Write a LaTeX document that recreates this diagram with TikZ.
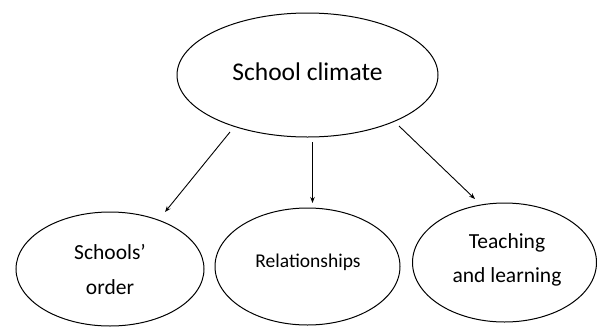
\documentclass[tikz,border=0pt]{standalone}
\usepackage{fontspec}
\setmainfont{Carlito}
\usetikzlibrary{arrows.meta}
\begin{document}
\begin{tikzpicture}[x=1pt,y=-1pt,
  oval/.style={draw=black,line width=1pt},
  lbl/.style={align=center,inner sep=0pt,text=black},
  link/.style={draw=black,line width=0.9pt,-{Stealth[length=6pt,width=4.5pt]}}]
\useasboundingbox (0,0) rectangle (597,327);
\draw[oval] (307.5,75) ellipse [x radius=130.5,y radius=62];
\node[lbl,font=\fontsize{25.5}{30}\selectfont] (top) at (307.5,72) {School climate};
\draw[oval] (110,269) ellipse [x radius=94,y radius=57];
\node[lbl,font=\fontsize{21.5}{35}\selectfont] (so) at (110,269) {Schools’\\order};
\draw[oval] (307.5,266.5) ellipse [x radius=92.5,y radius=58.5];
\node[lbl,font=\fontsize{19.5}{23}\selectfont] (rel) at (308,262) {Relationships};
\draw[oval] (504.5,262.5) ellipse [x radius=92,y radius=59.5];
\node[lbl,font=\fontsize{21.5}{34}\selectfont] (tl) at (507,260) {Teaching\\and learning};
\coordinate (a1) at (230,132); \coordinate (b1) at (165,212);
\coordinate (a2) at (312.5,142); \coordinate (b2) at (312.5,203);
\coordinate (a3) at (399,126); \coordinate (b3) at (475,199);
\draw[link] (a1) -- (b1);
\draw[link] (a2) -- (b2);
\draw[link] (a3) -- (b3);
\end{tikzpicture}
\end{document}
